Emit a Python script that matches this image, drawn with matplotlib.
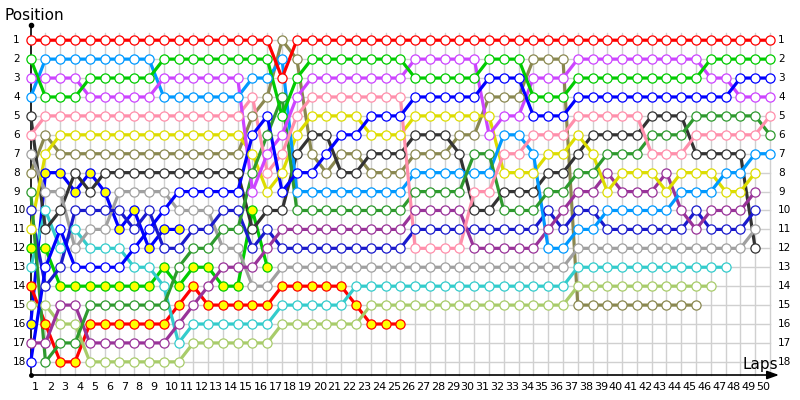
import matplotlib
matplotlib.use("Agg")
import matplotlib.pyplot as plt

# positions per lap (index 0 = grid, 1..50 = laps)
red = [1,1,1,1,1,1,1,1,1,1, 1,1,1,1,1,1,1,3,1,1, 1,1,1,1,1,1,1,1,1,1,
       1,1,1,1,1,1,1,1,1,1, 1,1,1,1,1,1,1,1,1,1, 1]
green = [2,4,4,4,3,3,3,3,3,2, 2,2,2,2,2,2,2,5,3,2, 2,2,2,2,2,2,3,3,3,3,
         3,2,2,2,4,4,4,3,3,3, 3,3,3,3,3,3,2,2,2,2, 2]
violet = [3,3,3,3,4,4,4,4,4,3, 3,3,3,3,3,9,7,6,4,3, 3,3,3,3,3,3,2,2,2,2,
          2,6,5,5,3,3,3,2,2,2, 2,2,2,2,2,2,3,3,4,4, 4]
lblue = [4,2,2,2,2,2,2,2,2,4, 4,4,4,4,4,3,3,2,9,9, 9,9,9,9,9,9,8,8,8,8,
         8,8,6,6,7,12,12,11,11,10, 10,10,10,10,9,9,9,8,8,7, 7]
black = [5,11,10,8,9,8,8,8,8,8, 8,8,8,8,8,11,10,10,7,6, 6,8,8,7,7,7,6,6,6,7,
         10,10,9,9,9,8,8,7,6,6, 6,6,5,5,5,7,7,7,7,12]
pink = [6,5,5,5,5,5,5,5,5,5, 5,5,5,5,5,4,8,7,5,4, 4,4,4,4,4,4,12,12,12,12,
        9,9,7,7,6,6,6,5,5,5, 5,5,7,7,7,6,6,6,6,6, 5]
gray = [7,9,9,12,11,11,9,9,9,9, 10,10,10,12,12,14,14,13,13,13,
        13,13,13,13,13,13,13,13,13,13, 13,13,13,13,13,13,13,12,12,12,
        12,12,12,12,12,12,12,12,12,11]
olive = [8,6,7,7,7,7,7,7,7,7, 7,7,7,7,7,5,4,1,2,7, 8,7,7,8,8,8,7,7,7,6,
         6,4,4,4,2,2,2,15,15,15, 15,15,15,15,15,15]
dgreen = [9,18,17,17,15,15,15,15,15,15, 13,12,12,11,11,8,6,4,10,10,
          10,10,10,10,10,10,9,9,9,9, 7,7,10,10,10,9,9,8,8,7,
          7,7,6,6,6,5,5,5,5,5, 6]
navy = [10,14,13,10,10,10,10,11,10,12, 12,11,11,10,10,12,11,12,12,12,
        12,12,12,12,12,12,11,11,11,11, 11,11,11,11,11,10,11,10,10,11,
        11,11,11,11,11,10,11,11,11,10]
yellow = [11,7,6,6,6,6,6,6,6,6, 6,6,6,6,6,7,9,8,6,5, 5,5,5,6,6,6,5,5,5,5,
          5,5,8,8,8,7,7,6,7,9, 8,8,8,9,8,8,8,9,9,8]
greenyf = [12,12,14,14,14,14,14,14,14,13, 14,13,13,14,14,10,13]
cyan = [13,10,12,11,12,12,12,13,13,14, 17,16,16,16,16,16,16,15,15,15,
        15,15,14,14,14,14,14,14,14,14, 14,14,14,14,14,14,14,13,13,13,
        13,13,13,13,13,13,13,13]
redyf = [14,16,18,18,16,16,16,16,16,16, 15,14,15,15,15,15,15,14,14,14,
         14,14,15,16,16,16]
lolive = [15,15,16,16,18,18,18,18,18,18, 18,17,17,17,17,17,17,16,16,16,
          16,16,16,15,15,15,15,15,15,15, 15,15,15,15,15,15,15,14,14,14,
          14,14,14,14,14,14,14]
blueyf = [16,8,8,9,8,9,11,10,12,11,11]
purple = [17,17,15,15,17,17,17,17,17,17, 16,15,14,13,13,13,12,11,11,11,
          11,11,11,11,11,11,10,10,10,10, 12,12,12,12,12,11,10,9,9,8,
          9,9,9,8,10,11,10,10,10,9]
blue = [18,13,11,13,13,13,13,12,11,10, 9,9,9,9,9,6,5,9,8,8, 7,6,6,5,5,5,4,4,4,4,
        4,3,3,3,5,5,5,4,4,4, 4,4,4,4,4,4,4,4,3,3, 3]

series = [
    (blueyf, "#0000ff", "#ffff00"),
    (greenyf, "#00cc00", "#ffff00"),
    (redyf, "#ff0000", "#ffff00"),
    (olive, "#8a8850", "white"),
    (lolive, "#a8cc6a", "white"),
    (cyan, "#33cccc", "white"),
    (black, "#333333", "white"),
    (gray, "#a0a0a0", "white"),
    (navy, "#1a1acc", "white"),
    (purple, "#993399", "white"),
    (yellow, "#dddd00", "white"),
    (lblue, "#0099ff", "white"),
    (dgreen, "#2e9a2e", "white"),
    (pink, "#ff8fab", "white"),
    (violet, "#cc44ff", "white"),
    (blue, "#0000ff", "white"),
    (green, "#00cc00", "white"),
    (red, "#ff0000", "white"),
]

n_laps = 50
n_pos = 18

# pixel geometry helpers
X0, DX = 30.7, 14.786
Y0, DY = 40.2, 18.92
def px_to_lap(px):
    return (px - X0) / DX
def py_to_pos(py):
    return 1 + (py - Y0) / DY

fig = plt.figure(figsize=(8, 4), dpi=100)
ax = fig.add_axes([0, 0, 1, 1])
ax.set_xlim(px_to_lap(0), px_to_lap(800))
ax.set_ylim(py_to_pos(400), py_to_pos(0))
ax.axis("off")

axis_pos = py_to_pos(375)
grid_top = py_to_pos(33)
gc = "#d0d0d0"
for k in range(1, n_laps + 1):
    ax.plot([k, k], [grid_top, axis_pos], color=gc, lw=1, zorder=1)
for p in range(1, n_pos + 1):
    ax.plot([0, n_laps], [p, p], color=gc, lw=1, zorder=1)

# axes
ax.plot([0, 0], [axis_pos, py_to_pos(25)], color="black", lw=1.2, zorder=2)
ax.plot([0], [py_to_pos(25)], "o", color="black", ms=3, zorder=2)
ax.plot([0], [axis_pos], "o", color="black", ms=2.5, zorder=2)
ax.annotate("", xy=(px_to_lap(779), axis_pos), xytext=(0, axis_pos),
            arrowprops=dict(arrowstyle="-|>,head_length=0.7,head_width=0.25",
                            color="black", lw=1.2, shrinkA=0, shrinkB=0),
            zorder=2)

# lines
for vals, col, fill in series:
    ax.plot(range(len(vals)), vals, color=col, lw=2.3, zorder=3,
            solid_joinstyle="round", solid_capstyle="round")
for vals, col, fill in series:
    ax.plot(range(len(vals)), vals, "o", ms=6.6, mfc=fill, mec=col,
            mew=0.9, zorder=4, linestyle="none")

# tick labels
fs = 8
xlab_pos = py_to_pos(387)
for k in range(1, n_laps + 1):
    ax.text(k - 1 + 0.08, xlab_pos, str(k), ha="left", va="center",
            fontsize=fs, color="black")
for p in range(1, n_pos + 1):
    ax.text(px_to_lap(13), p, str(p), ha="left", va="center",
            fontsize=fs - 0.4, color="black")
    ax.text(px_to_lap(778), p, str(p), ha="left", va="center",
            fontsize=fs - 0.4, color="black")

fig.text(5 / 800, 1 - 15 / 400, "Position", ha="left", va="center",
         fontsize=11)
fig.text(743 / 800, 1 - 364 / 400, "Laps", ha="left", va="center",
         fontsize=11)

fig.savefig("out.png", dpi=100)
